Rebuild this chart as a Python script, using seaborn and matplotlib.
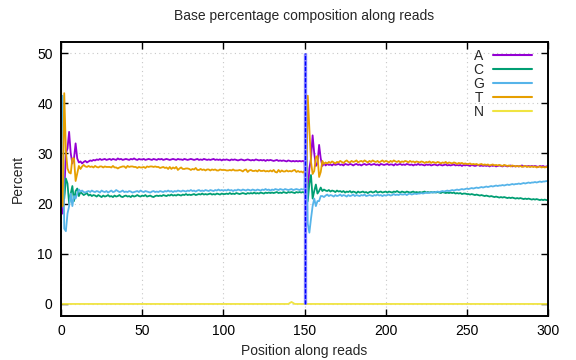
import seaborn as sns
import matplotlib.pyplot as plt
from matplotlib.lines import Line2D
import pandas as pd

# Base composition (percent) per position; read 1 = 1..150, read 2 = 151..300
positions = list(range(1, 301))

a_pct = [
    18.0, 22.0, 30.0, 31.0, 34.3, 30.0, 28.0, 29.0, 32.0, 29.0,
    28.2, 28.4, 28.0, 28.3, 28.5, 28.2, 28.4, 28.6, 28.5, 28.7,
    28.6, 28.8, 28.7, 28.9, 28.7, 28.8, 28.9, 28.7, 28.8, 28.9,
    28.7, 28.9, 28.8, 28.7, 29.0, 28.8, 28.9, 28.7, 28.8, 28.9,
    28.8, 28.7, 28.9, 28.8, 29.0, 28.8, 28.7, 28.9, 28.8, 28.8,
    28.9, 28.7, 28.8, 28.9, 28.8, 28.7, 28.9, 28.8, 28.7, 28.9,
    28.8, 28.9, 28.7, 28.8, 28.9, 28.8, 28.7, 28.8, 28.9, 28.8,
    28.7, 28.9, 28.8, 28.8, 28.7, 28.9, 28.8, 28.7, 28.8, 28.9,
    28.8, 28.7, 28.8, 28.9, 28.7, 28.8, 28.7, 28.9, 28.8, 28.7,
    28.8, 28.7, 28.8, 28.9, 28.7, 28.8, 28.7, 28.8, 28.6, 28.8,
    28.7, 28.8, 28.7, 28.6, 28.8, 28.7, 28.8, 28.7, 28.6, 28.7,
    28.8, 28.7, 28.6, 28.7, 28.8, 28.7, 28.6, 28.7, 28.6, 28.8,
    28.7, 28.6, 28.7, 28.6, 28.7, 28.5, 28.7, 28.6, 28.7, 28.6,
    28.5, 28.6, 28.7, 28.5, 28.6, 28.5, 28.6, 28.5, 28.4, 28.6,
    28.5, 28.4, 28.5, 28.4, 28.5, 28.4, 28.5, 28.4, 28.5, 28.4,
    19.0, 22.0, 27.0, 29.0, 33.6, 30.0, 27.5, 28.0, 31.7, 29.0,
    27.5, 28.0, 27.6, 27.9, 27.7, 27.8, 27.6, 27.9, 27.7, 27.8,
    27.9, 27.7, 27.8, 27.6, 27.9, 27.8, 27.7, 27.9, 27.8, 27.6,
    27.8, 27.9, 27.7, 27.8, 27.6, 27.8, 27.9, 27.7, 27.8, 27.9,
    27.7, 27.8, 27.9, 27.7, 27.8, 27.6, 27.9, 27.8, 27.7, 27.8,
    27.9, 27.7, 27.8, 27.8, 27.6, 27.9, 27.7, 27.8, 27.9, 27.7,
    27.8, 27.7, 27.9, 27.8, 27.7, 27.8, 27.6, 27.8, 27.7, 27.9,
    27.7, 27.8, 27.7, 27.6, 27.8, 27.7, 27.8, 27.6, 27.7, 27.8,
    27.7, 27.6, 27.8, 27.7, 27.6, 27.7, 27.8, 27.6, 27.7, 27.6,
    27.7, 27.8, 27.6, 27.7, 27.6, 27.7, 27.5, 27.7, 27.6, 27.7,
    27.6, 27.5, 27.7, 27.6, 27.5, 27.6, 27.7, 27.5, 27.6, 27.5,
    27.6, 27.5, 27.6, 27.4, 27.6, 27.5, 27.6, 27.4, 27.5, 27.6,
    27.5, 27.4, 27.6, 27.5, 27.4, 27.5, 27.6, 27.4, 27.5, 27.4,
    27.5, 27.4, 27.5, 27.6, 27.4, 27.5, 27.4, 27.5, 27.4, 27.5,
    27.4, 27.5, 27.4, 27.3, 27.5, 27.4, 27.5, 27.3, 27.4, 27.5,
]

c_pct = [
    21.0, 21.0, 25.0, 24.0, 20.0, 22.0, 23.5, 20.5, 22.5, 23.0,
    21.5, 22.3, 22.0, 21.7, 21.9, 22.1, 21.6, 21.8, 21.5, 21.7,
    21.6, 21.4, 21.7, 21.5, 21.3, 21.6, 21.4, 21.5, 21.7, 21.4,
    21.5, 21.3, 21.6, 21.4, 21.5, 21.7, 21.4, 21.3, 21.5, 21.6,
    21.4, 21.5, 21.3, 21.6, 21.4, 21.5, 21.7, 21.5, 21.4, 21.6,
    21.5, 21.7, 21.4, 21.5, 21.6, 21.4, 21.3, 21.5, 21.6, 21.5,
    21.6, 21.5, 21.7, 21.6, 21.5, 21.7, 21.6, 21.8, 21.6, 21.7,
    21.6, 21.8, 21.7, 21.6, 21.8, 21.7, 21.9, 21.7, 21.8, 21.7,
    21.8, 21.9, 21.7, 21.8, 21.9, 21.8, 22.0, 21.8, 21.9, 21.8,
    21.9, 22.0, 21.8, 21.9, 21.8, 22.0, 21.9, 21.8, 22.0, 21.9,
    21.9, 22.0, 21.9, 22.1, 21.9, 22.0, 21.9, 22.1, 22.0, 21.9,
    22.0, 22.1, 22.0, 21.9, 22.1, 22.0, 22.1, 22.0, 22.2, 22.0,
    22.1, 22.0, 22.2, 22.1, 22.0, 22.2, 22.1, 22.2, 22.1, 22.2,
    22.1, 22.2, 22.3, 22.1, 22.2, 22.1, 22.3, 22.2, 22.1, 22.3,
    22.2, 22.3, 22.2, 22.1, 22.3, 22.2, 22.3, 22.2, 22.3, 22.2,
    20.0, 20.5, 24.0, 25.7, 21.0, 22.5, 23.8, 22.0, 22.5, 23.2,
    22.5, 22.8, 22.6, 22.5, 22.7, 22.4, 22.6, 22.5, 22.3, 22.6,
    22.4, 22.5, 22.3, 22.5, 22.2, 22.4, 22.3, 22.5, 22.2, 22.4,
    22.3, 22.1, 22.4, 22.2, 22.3, 22.4, 22.2, 22.3, 22.1, 22.3,
    22.4, 22.2, 22.3, 22.5, 22.2, 22.3, 22.4, 22.2, 22.3, 22.4,
    22.2, 22.4, 22.3, 22.2, 22.4, 22.3, 22.5, 22.3, 22.2, 22.4,
    22.3, 22.2, 22.4, 22.3, 22.2, 22.3, 22.4, 22.2, 22.3, 22.2,
    22.3, 22.2, 22.3, 22.4, 22.2, 22.3, 22.2, 22.3, 22.2, 22.3,
    22.2, 22.3, 22.2, 22.1, 22.3, 22.2, 22.1, 22.2, 22.1, 22.2,
    22.1, 22.2, 22.0, 22.1, 22.0, 22.1, 21.9, 22.0, 22.0, 21.9,
    21.9, 21.8, 21.9, 21.8, 21.7, 21.8, 21.7, 21.6, 21.7, 21.6,
    21.5, 21.6, 21.5, 21.4, 21.5, 21.4, 21.3, 21.4, 21.3, 21.2,
    21.3, 21.2, 21.3, 21.2, 21.1, 21.2, 21.1, 21.2, 21.1, 21.0,
    21.1, 21.0, 21.1, 21.0, 20.9, 21.0, 20.9, 21.0, 20.9, 20.8,
    20.9, 20.8, 20.9, 20.8, 20.7, 20.8, 20.7, 20.8, 20.7, 20.7,
]

g_pct = [
    41.5, 15.0, 14.5, 18.0, 19.5, 22.0, 19.5, 21.5, 21.0, 22.0,
    22.8, 22.4, 22.6, 22.3, 22.2, 22.4, 22.5, 22.3, 22.6, 22.4,
    22.3, 22.5, 22.4, 22.2, 22.6, 22.4, 22.3, 22.5, 22.2, 22.4,
    22.6, 22.3, 22.4, 22.7, 22.5, 22.3, 22.4, 22.6, 22.3, 22.4,
    22.3, 22.5, 22.4, 22.2, 22.3, 22.4, 22.5, 22.3, 22.6, 22.4,
    22.3, 22.5, 22.4, 22.3, 22.2, 22.4, 22.5, 22.3, 22.4, 22.3,
    22.5, 22.4, 22.3, 22.5, 22.4, 22.6, 22.4, 22.5, 22.3, 22.5,
    22.4, 22.6, 22.5, 22.4, 22.6, 22.5, 22.4, 22.6, 22.5, 22.7,
    22.5, 22.6, 22.4, 22.6, 22.7, 22.5, 22.6, 22.5, 22.7, 22.6,
    22.5, 22.7, 22.6, 22.5, 22.7, 22.6, 22.8, 22.6, 22.7, 22.6,
    22.7, 22.6, 22.8, 22.6, 22.7, 22.5, 22.7, 22.6, 22.8, 22.7,
    22.6, 22.8, 22.7, 22.6, 22.8, 22.7, 22.6, 22.8, 22.7, 22.6,
    22.8, 22.7, 22.6, 22.8, 22.7, 22.9, 22.7, 22.8, 22.6, 22.8,
    22.7, 22.9, 22.8, 22.7, 22.9, 22.8, 22.7, 22.9, 22.8, 22.7,
    22.8, 22.9, 22.7, 22.8, 22.9, 22.8, 22.7, 22.9, 22.8, 22.9,
    39.5, 16.0, 14.2, 17.0, 19.5, 21.0, 19.5, 20.5, 20.5, 21.5,
    21.5, 21.3, 21.6, 21.8, 21.5, 21.7, 21.6, 21.4, 21.7, 21.5,
    21.6, 21.8, 21.5, 21.7, 21.6, 21.4, 21.7, 21.5, 21.6, 21.8,
    21.5, 21.7, 21.6, 21.5, 21.7, 21.6, 21.8, 21.5, 21.6, 21.7,
    21.6, 21.5, 21.7, 21.6, 21.8, 21.6, 21.7, 21.5, 21.7, 21.6,
    21.7, 21.8, 21.6, 21.7, 21.9, 21.7, 21.8, 21.7, 21.9, 21.8,
    21.8, 21.9, 21.7, 21.9, 22.0, 21.8, 21.9, 22.0, 21.9, 22.0,
    22.0, 22.1, 22.0, 22.1, 22.2, 22.1, 22.2, 22.2, 22.3, 22.2,
    22.3, 22.4, 22.3, 22.4, 22.5, 22.4, 22.5, 22.6, 22.5, 22.6,
    22.7, 22.6, 22.7, 22.8, 22.7, 22.8, 22.9, 22.8, 22.9, 23.0,
    22.9, 23.0, 23.1, 23.0, 23.1, 23.2, 23.1, 23.2, 23.3, 23.2,
    23.3, 23.4, 23.3, 23.4, 23.5, 23.4, 23.5, 23.6, 23.5, 23.6,
    23.6, 23.7, 23.6, 23.7, 23.8, 23.7, 23.8, 23.9, 23.8, 23.9,
    23.9, 24.0, 23.9, 24.0, 24.1, 24.0, 24.1, 24.2, 24.1, 24.2,
    24.2, 24.3, 24.2, 24.3, 24.4, 24.3, 24.4, 24.4, 24.5, 24.4,
]

t_pct = [
    19.5, 42.0, 30.5, 27.0, 26.2, 26.0, 29.0, 29.0, 24.5, 26.0,
    27.5, 26.9, 27.4, 27.7, 27.4, 27.3, 27.5, 27.3, 27.4, 27.2,
    27.5, 27.3, 27.2, 27.4, 27.4, 27.2, 27.4, 27.3, 27.3, 27.3,
    27.2, 27.5, 27.2, 27.2, 27.0, 27.2, 27.3, 27.4, 27.4, 27.1,
    27.5, 27.3, 27.4, 27.4, 27.3, 27.3, 27.1, 27.3, 27.2, 27.2,
    27.3, 27.1, 27.4, 27.3, 27.4, 27.4, 27.3, 27.4, 27.3, 27.3,
    27.1, 27.2, 27.3, 27.1, 27.2, 26.9, 27.3, 26.9, 27.2, 27.0,
    27.3, 26.7, 27.0, 27.2, 26.9, 26.9, 27.0, 27.0, 26.9, 26.7,
    26.9, 26.8, 27.1, 26.7, 26.7, 26.9, 26.7, 26.8, 26.6, 26.8,
    26.8, 26.6, 26.8, 26.7, 26.8, 26.6, 26.6, 26.8, 26.7, 26.7,
    26.7, 26.6, 26.6, 26.7, 26.6, 26.8, 26.6, 26.6, 26.6, 26.7,
    26.6, 26.4, 26.7, 26.8, 26.3, 26.6, 26.7, 26.5, 26.5, 26.6,
    26.4, 26.7, 26.5, 26.5, 26.6, 26.4, 26.5, 26.4, 26.6, 26.4,
    26.7, 26.3, 26.2, 26.7, 26.3, 26.6, 26.4, 26.4, 26.6, 26.4,
    26.5, 26.4, 26.6, 26.7, 26.3, 26.5, 26.3, 26.4, 26.2, 26.5,
    21.5, 41.5, 34.8, 28.3, 25.9, 26.5, 29.2, 29.5, 25.3, 26.3,
    28.5, 27.9, 28.2, 28.0, 28.3, 28.1, 28.4, 28.2, 28.0, 28.3,
    28.2, 28.5, 28.3, 28.1, 28.4, 28.6, 28.3, 28.2, 28.5, 28.3,
    28.4, 28.6, 28.2, 28.4, 28.5, 28.3, 28.6, 28.4, 28.2, 28.5,
    28.3, 28.6, 28.4, 28.3, 28.5, 28.2, 28.4, 28.6, 28.3, 28.5,
    28.4, 28.2, 28.5, 28.3, 28.6, 28.4, 28.3, 28.5, 28.2, 28.4,
    28.3, 28.5, 28.4, 28.2, 28.5, 28.3, 28.4, 28.2, 28.4, 28.3,
    28.2, 28.4, 28.3, 28.1, 28.3, 28.2, 28.4, 28.1, 28.3, 28.2,
    28.1, 28.3, 28.2, 28.0, 28.2, 28.1, 28.3, 28.0, 28.2, 28.1,
    28.0, 28.2, 28.1, 27.9, 28.1, 28.0, 28.1, 27.9, 28.0, 27.9,
    27.9, 28.0, 27.8, 27.9, 27.8, 27.9, 27.7, 27.8, 27.9, 27.7,
    27.8, 27.7, 27.8, 27.6, 27.7, 27.8, 27.6, 27.7, 27.6, 27.7,
    27.6, 27.5, 27.7, 27.6, 27.5, 27.6, 27.4, 27.6, 27.5, 27.4,
    27.5, 27.4, 27.5, 27.3, 27.4, 27.5, 27.3, 27.4, 27.3, 27.4,
    27.3, 27.4, 27.2, 27.3, 27.4, 27.2, 27.3, 27.2, 27.3, 27.2,
]

# N is zero everywhere except a tiny bump near the end of read 1
n_pct = [0.0] * 140 + [0.2, 0.4, 0.2] + [0.0] * 157

bases = ["A", "C", "G", "T", "N"]
colors = ["#9400d3", "#009e73", "#56b4e9", "#e69f00", "#f0e442"]

# boundary between read 1 and read 2
read_boundary = 150
boundary_span = [0, 50]

df = pd.DataFrame({
    "pos": positions * 5,
    "pct": a_pct + c_pct + g_pct + t_pct + n_pct,
    "base": [b for b in bases for _ in positions],
})

sns.set_theme(style="white")
plt.rcParams["font.family"] = ["Liberation Sans", "DejaVu Sans"]
plt.rcParams["font.size"] = 10

fig, ax = plt.subplots(figsize=(5.76, 3.6), dpi=100)
fig.subplots_adjust(left=61 / 576, right=548 / 576, top=1 - 42 / 360, bottom=1 - 316 / 360)

sns.lineplot(data=df, x="pos", y="pct", hue="base", hue_order=bases,
             palette=dict(zip(bases, colors)), linewidth=1.3,
             errorbar=None, legend=False, ax=ax)

# read boundary: light blue band with a dashed dark blue core
ax.vlines(read_boundary, boundary_span[0], boundary_span[1], color="#8c8cff", linewidth=2.4, zorder=5)
ax.vlines(read_boundary, boundary_span[0], boundary_span[1], color="#0000ff", linewidth=1.0,
          linestyles=(0, (3, 1)), zorder=6)

ax.set_xlim(0, 300)
ax.set_ylim(-2.4, 52.2)
ax.set_xticks(range(0, 301, 50))
ax.set_yticks(range(0, 51, 10))

ax.grid(True, color="#c8c8c8", linestyle=(0, (1, 3)), linewidth=0.8)
for s in ax.spines.values():
    s.set_color("black")
    s.set_linewidth(1.4)
ax.tick_params(direction="in", length=5, width=1, colors="black", labelsize=10,
               top=True, right=True, bottom=True, left=True, pad=6)

ax.set_title("Base percentage composition along reads", fontsize=10, pad=16)
ax.set_xlabel("Position along reads", fontsize=10, labelpad=4)
ax.set_ylabel("Percent", fontsize=10, labelpad=9)

handles = [Line2D([], [], color=c, linewidth=1.5) for c in colors]
ax.legend(handles, bases, loc="upper right", bbox_to_anchor=(0.982, 1.0),
          markerfirst=False, frameon=False,
          handlelength=2.8, handletextpad=0.7, labelspacing=0.0, fontsize=10,
          borderaxespad=0.1, borderpad=0.4)

plt.savefig("out.png", dpi=100)
